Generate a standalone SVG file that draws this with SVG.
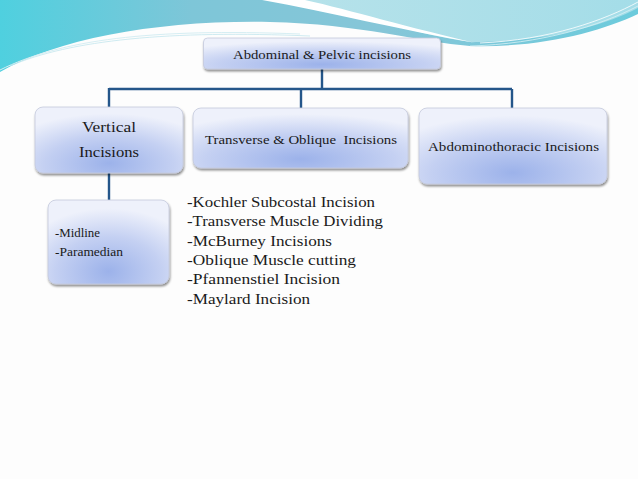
<svg xmlns="http://www.w3.org/2000/svg" width="638" height="479" viewBox="0 0 638 479">
<style>
.box{fill:url(#boxg);stroke:#c4c9dc;stroke-width:0.8;filter:url(#sh)}
.t{font-family:"Liberation Serif","Times New Roman",serif;fill:#1a1a1a}
.conn{fill:none;stroke:#24568a;stroke-width:2.4}
</style>
<defs>
<radialGradient id="boxg" cx="0.5" cy="0.9" r="0.8" fx="0.5" fy="0.85">
<stop offset="0" stop-color="#9cb2ea"/>
<stop offset="0.55" stop-color="#c4d0f2"/>
<stop offset="1" stop-color="#eef1fb"/>
</radialGradient>
<linearGradient id="teal" x1="0" y1="0" x2="1" y2="0">
<stop offset="0" stop-color="#4fd0df"/>
<stop offset="0.3" stop-color="#7ec6d8"/>
<stop offset="0.6" stop-color="#86c6d8"/>
<stop offset="1" stop-color="#6ccbdc"/>
</linearGradient>
<linearGradient id="lcyan" x1="0" y1="0" x2="1" y2="0">
<stop offset="0" stop-color="#b6e2ea"/>
<stop offset="1" stop-color="#a4dde8"/>
</linearGradient>
<filter id="sh" x="-10%" y="-10%" width="125%" height="140%">
<feDropShadow dx="0.8" dy="2" stdDeviation="1.3" flood-color="#000" flood-opacity="0.45"/>
</filter>
</defs>
<rect x="0" y="0" width="638" height="479" fill="#fdfdfd"/>
<g id="banner">
<path d="M0,0 H638 V14 C600,32 540,48 470,46 C420,42 360,24 270,22 C160,20 60,38 0,72 Z" fill="url(#teal)"/>
<path d="M300,0 H638 V8 C600,28 540,42 472,42 C420,36 360,14 300,0 Z" fill="url(#lcyan)"/>
<path d="M262,0 C330,12 400,30 476,43 C410,28 350,10 305,0 Z" fill="#ffffff"/>
<path d="M0,70 C60,40 150,28 300,34" fill="none" stroke="#d6eef3" stroke-width="1"/>
<path d="M10,66 C70,40 170,30 310,36" fill="none" stroke="#c3e6ee" stroke-width="0.8"/>
<path d="M470,46 C540,44 600,26 638,6" fill="none" stroke="#d8f1f5" stroke-width="0.8"/>
<path d="M480,43 C550,40 605,20 638,2" fill="none" stroke="#ffffff" stroke-width="0.8"/>
</g>
<g id="connectors">
<path class="conn" d="M322,69 V89 M109,89 H512 M109,88 V107 M301,89 V108 M512,89 V108 M109,173 V200"/>
</g>
<g id="n-root">
<rect class="box" x="203.5" y="38" width="237" height="31" rx="4"/>
<text class="t" x="322" y="58.5" font-size="13.5" text-anchor="middle" textLength="178" lengthAdjust="spacingAndGlyphs">Abdominal &amp; Pelvic incisions</text>
</g>
<g id="n-vertical">
<rect class="box" x="35" y="107" width="148" height="66" rx="8"/>
<text class="t" x="109" y="132" font-size="15" text-anchor="middle" textLength="54" lengthAdjust="spacingAndGlyphs">Vertical</text>
<text class="t" x="109" y="157" font-size="15" text-anchor="middle" textLength="60" lengthAdjust="spacingAndGlyphs">Incisions</text>
</g>
<g id="n-transverse">
<rect class="box" x="193" y="108" width="215" height="60" rx="8"/>
<text class="t" x="205" y="143.5" font-size="13" textLength="192" lengthAdjust="spacingAndGlyphs" xml:space="preserve">Transverse &amp; Oblique  Incisions</text>
</g>
<g id="n-abdominothoracic">
<rect class="box" x="419" y="108" width="188" height="76" rx="8"/>
<text class="t" x="428" y="151" font-size="13" textLength="171" lengthAdjust="spacingAndGlyphs">Abdominothoracic Incisions</text>
</g>
<g id="n-midline">
<rect class="box" x="48" y="200" width="121" height="84" rx="8"/>
<text class="t" x="55" y="237" font-size="11.5" textLength="45" lengthAdjust="spacingAndGlyphs">-Midline</text>
<text class="t" x="55" y="256" font-size="11.5" textLength="68" lengthAdjust="spacingAndGlyphs">-Paramedian</text>
</g>
<g id="list">
<text class="t" x="187" y="207" font-size="15.5" textLength="188" lengthAdjust="spacingAndGlyphs">-Kochler Subcostal Incision</text>
<text class="t" x="187" y="226" font-size="15.5" textLength="196" lengthAdjust="spacingAndGlyphs">-Transverse Muscle Dividing</text>
<text class="t" x="187" y="245.5" font-size="15.5" textLength="145" lengthAdjust="spacingAndGlyphs">-McBurney Incisions</text>
<text class="t" x="187" y="265" font-size="15.5" textLength="169" lengthAdjust="spacingAndGlyphs">-Oblique Muscle cutting</text>
<text class="t" x="187" y="284" font-size="15.5" textLength="153" lengthAdjust="spacingAndGlyphs">-Pfannenstiel Incision</text>
<text class="t" x="187" y="303.5" font-size="15.5" textLength="123" lengthAdjust="spacingAndGlyphs">-Maylard Incision</text>
</g>
</svg>
